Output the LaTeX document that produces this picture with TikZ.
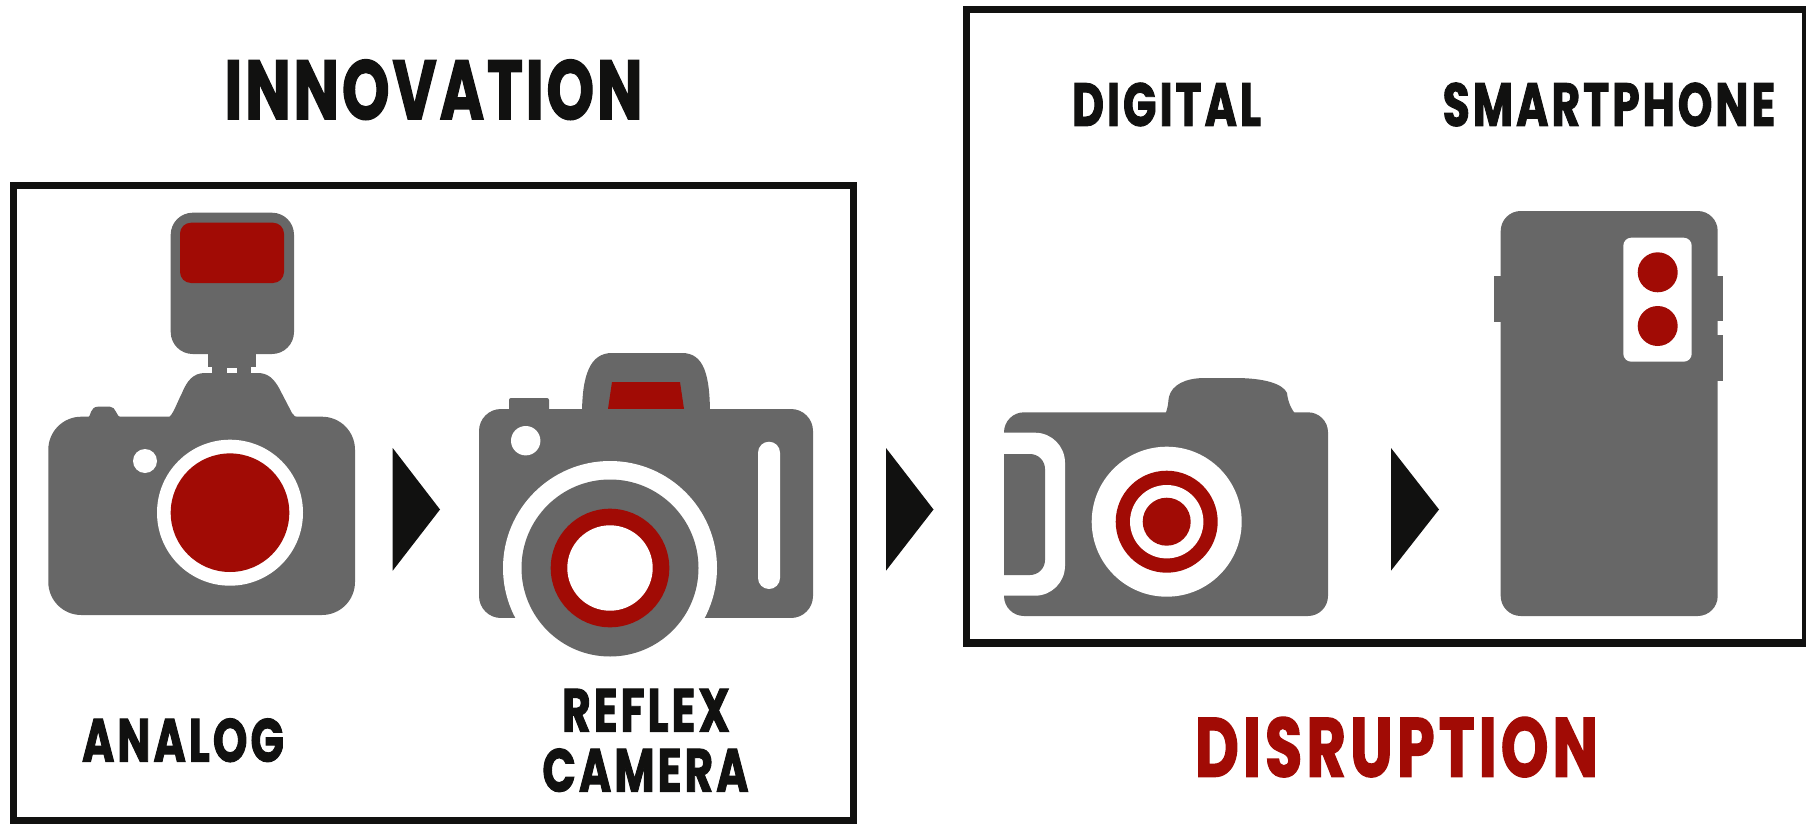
\documentclass[tikz,border=0pt]{standalone}
\usepackage{fontspec}
\usepackage{tikz}
\newfontfamily\titlefont{Poppins}[UprightFont=* Bold,FakeStretch=0.72,FakeBold=1.5,LetterSpace=3.5]
\newfontfamily\labelfont{Poppins}[UprightFont=* Bold,FakeStretch=0.72,FakeBold=1.5,LetterSpace=5]
\definecolor{CamGray}{HTML}{676767}
\definecolor{CamRed}{HTML}{A10B05}
\definecolor{CamInk}{HTML}{111110}
\begin{document}
\begin{tikzpicture}[
    x=1pt,y=-1pt,
    frame/.style={draw=CamInk,line width=7.5pt},
    gray/.style={fill=CamGray},
    red/.style={fill=CamRed},
    hole/.style={fill=white},
    tip/.style={fill=CamInk},
    big/.style={inner sep=0pt,anchor=base,font=\titlefont\fontsize{84}{84}\selectfont},
    small/.style={inner sep=0pt,anchor=base,font=\labelfont\fontsize{61}{61}\selectfont,text=CamInk}
  ]
  \useasboundingbox (0,0) rectangle (1806,829);
  \draw[frame] (13.5,185.3) rectangle (853.5,820.5);
  \draw[frame] (966.3,9.3) rectangle (1805.5,643);
  \node[big,text=CamInk] (innovation) at (433.5,119.3) {INNOVATION};
  \node[big,text=CamRed] (disruption) at (1396.5,776.7) {\addfontfeature{LetterSpace=5}DISRUPTION};
  \node[small] (analog) at (183,761.7) {ANALOG};
  \node[small] (reflex) at (646,731.7) {REFLEX};
  \node[small] (camera) at (645.5,791.7) {CAMERA};
  \node[small] (digital) at (1166.5,126) {DIGITAL};
  \node[small] (smartphone) at (1609,126) {SMARTPHONE};
  \fill[tip] (392.7,448) -- (440,509.5) -- (392.7,570.7) -- cycle;
  \fill[tip] (886,448) -- (933.5,509.5) -- (886,570.7) -- cycle;
  \fill[tip] (1391,448) -- (1439,509.5) -- (1391,570.7) -- cycle;
  % analog
  \fill[gray,rounded corners=22pt] (170.7,212.7) rectangle (294,354);
  \fill[red,rounded corners=11pt] (180,222.7) rectangle (284,283);
  \fill[gray] (208,350) rectangle (256,367);
  \fill[gray] (212,360) rectangle (250.6,380);
  \fill[hole] (226.7,368) rectangle (237.3,373);
  \fill[gray] (168,418) .. controls (173,415) and (176,405) .. (182,393) .. controls (187,381) and (193,373) .. (205,373) -- (258,373) .. controls (268,373) and (274,379) .. (279,388) -- (292,413) .. controls (293,416) and (296,417) .. (300,418) -- cycle;
  \fill[gray] (88,418) .. controls (91,416) and (90,406.7) .. (98,406.7) -- (110,406.7) .. controls (116,406.7) and (116,416) .. (121,418) -- cycle;
  \fill[gray,rounded corners=33pt] (48.3,416.7) rectangle (355,615);
  \fill[hole] (145,461) circle (12);
  \fill[hole] (230,512.7) circle (73);
  \fill[red] (230,512.7) circle (59.3);
  % reflex
  \fill[gray,rounded corners=2pt] (509,415) -- (509,398) -- (549,398) -- (549,415) -- cycle;
  \fill[gray] (582,415) .. controls (582,375) and (590,353) .. (612,353) -- (682,353) .. controls (704,353) and (710,375) .. (710,415) -- cycle;
  \fill[red] (608,409) -- (612,382) -- (680,382) -- (684,409) -- cycle;
  \fill[gray,rounded corners=22pt] (479,409) rectangle (813,618);
  \fill[hole] (525.7,440.7) circle (14.7);
  \fill[hole,rounded corners=11pt] (758,441.7) rectangle (780,589);
  \fill[hole] (610,568) circle (107);
  \fill[hole] (480,618) rectangle (815,660);
  \fill[gray] (610,568) circle (88.5);
  \fill[red] (610,568) circle (59.3);
  \fill[hole] (610,568) circle (42.7);
  % digital
  \fill[gray] (1165,415) .. controls (1169,405) and (1168,400) .. (1169,396.7) .. controls (1172,385) and (1185,378) .. (1205,378) -- (1235,378) .. controls (1265,378) and (1283,384) .. (1287,393) .. controls (1288,403) and (1292,410) .. (1296,415) -- cycle;
  \fill[gray,rounded corners=20pt] (1004,412.3) rectangle (1328,616);
  \fill[hole] (1004,432.7) [rounded corners=30pt] -- (1065,432.7) -- (1065,595.7) [sharp corners] -- (1004,595.7) -- cycle;
  \fill[gray] (1004,454) [rounded corners=15pt] -- (1045,454) -- (1045,575) [sharp corners] -- (1004,575) -- cycle;
  \fill[hole] (1166.7,521.7) circle (75);
  \fill[red] (1166.7,521.7) circle (51);
  \fill[hole] (1166.7,521.7) circle (36.7);
  \fill[red] (1166.7,521.7) circle (24);
  % smartphone
  \fill[gray] (1494.3,275.7) rectangle (1510,321.7);
  \fill[gray] (1710,275.7) rectangle (1723,320.7);
  \fill[gray] (1710,335) rectangle (1723,380.7);
  \fill[gray,rounded corners=20pt] (1500.7,211) rectangle (1717.7,616);
  \fill[hole,rounded corners=8pt] (1623.3,237.7) rectangle (1691.7,361.7);
  \fill[red] (1657.7,272.3) circle (20);
  \fill[red] (1657.7,326) circle (20);
\end{tikzpicture}
\end{document}
